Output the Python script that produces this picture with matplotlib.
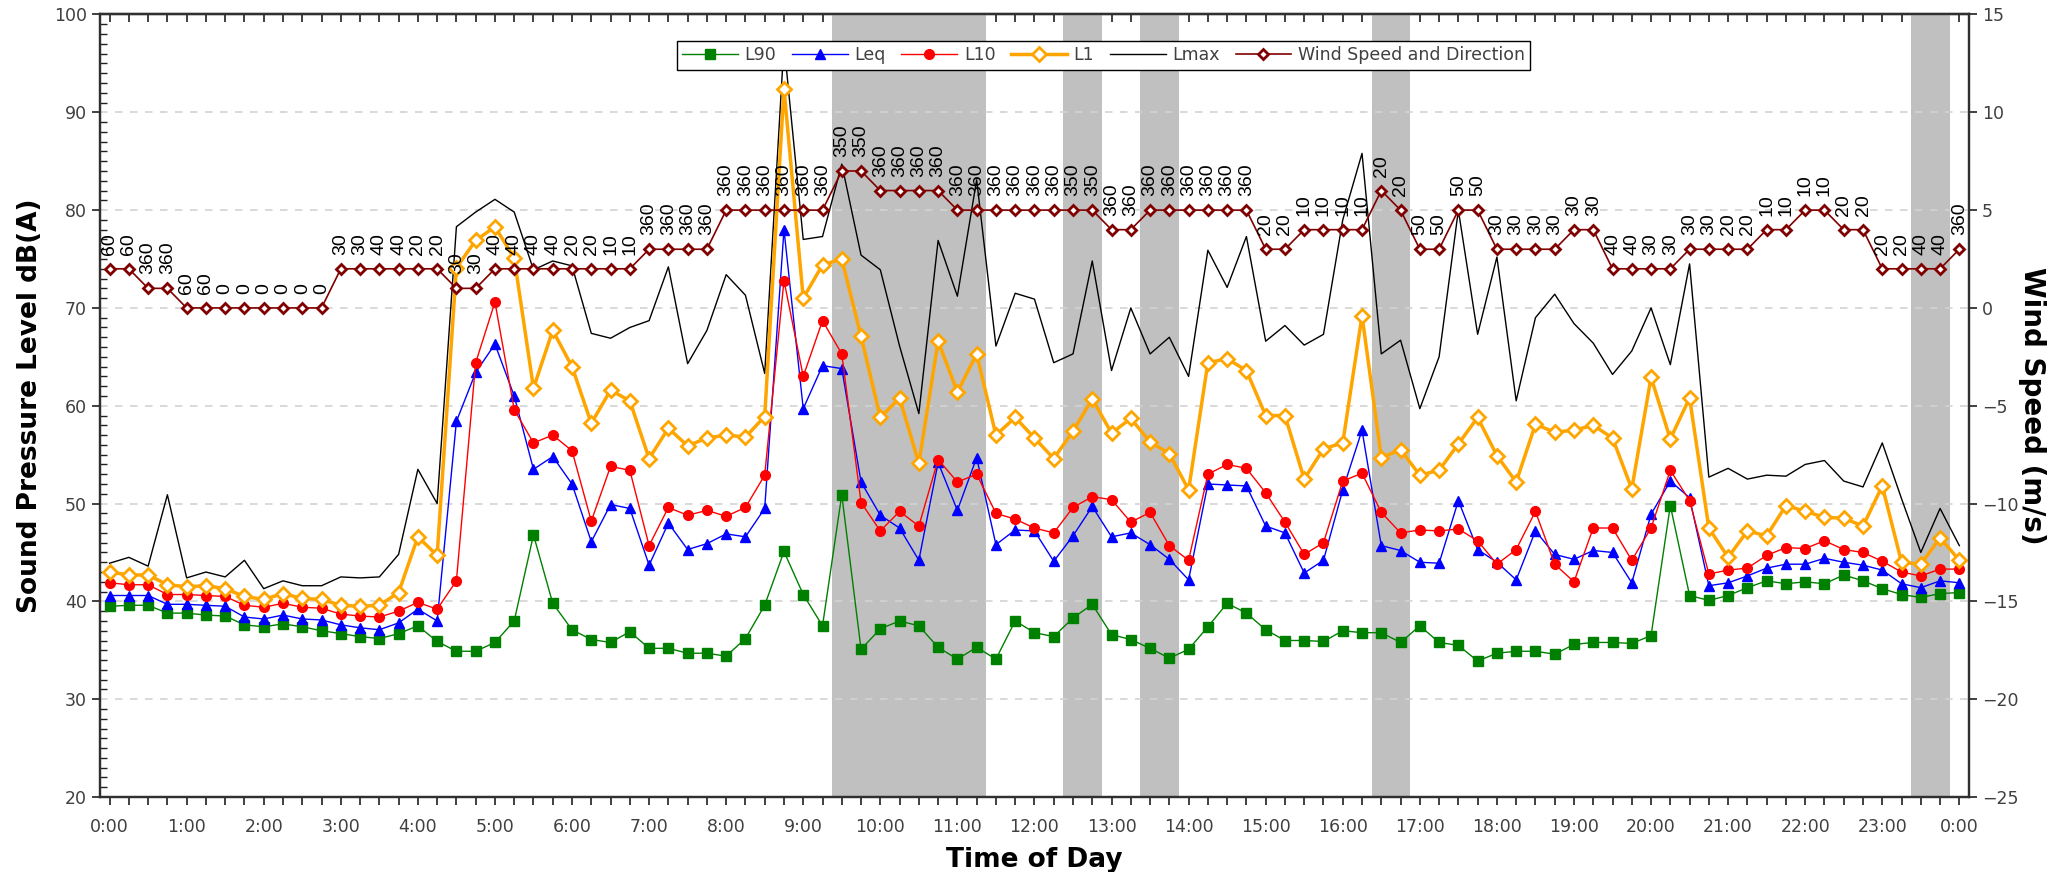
import matplotlib
matplotlib.use("Agg")
import matplotlib.pyplot as plt
from matplotlib.ticker import MultipleLocator, FixedLocator
import numpy as np

# ---------------- data (15-minute intervals, 0:00 .. 24:00) ----------------
L90 = [39.5, 39.6, 39.6, 38.8, 38.8, 38.6, 38.5, 37.6, 37.4, 37.7, 37.4, 37.0,
       36.7, 36.4, 36.2, 36.7, 37.5, 35.9, 34.9, 34.9, 35.8, 38.0, 46.8, 39.8,
       37.1, 36.1, 35.8, 36.9, 35.2, 35.2, 34.7, 34.7, 34.4, 36.2, 39.6, 45.1,
       40.7, 37.5, 50.9, 35.1, 37.2, 38.0, 37.5, 35.3, 34.1, 35.3, 34.1, 38.0,
       36.8, 36.4, 38.3, 39.7, 36.6, 36.1, 35.2, 34.2, 35.1, 37.4, 39.8, 38.8,
       37.1, 36.0, 36.0, 35.9, 37.0, 36.8, 36.8, 35.8, 37.5, 35.8, 35.5, 33.9,
       34.7, 34.9, 34.9, 34.6, 35.6, 35.8, 35.8, 35.7, 36.5, 49.8, 40.6, 40.1,
       40.6, 41.4, 42.1, 41.8, 42.0, 41.8, 42.7, 42.1, 41.3, 40.7, 40.4, 40.8,
       40.9]
Leq = [40.6, 40.6, 40.6, 39.7, 39.7, 39.6, 39.5, 38.4, 38.2, 38.6, 38.2, 38.1,
       37.6, 37.3, 37.1, 37.8, 39.2, 38.0, 58.4, 63.4, 66.3, 61.0, 53.5, 54.8,
       52.0, 46.1, 49.9, 49.5, 43.7, 48.0, 45.3, 45.9, 46.9, 46.6, 49.5, 78.0,
       59.7, 64.1, 63.8, 52.2, 48.8, 47.5, 44.2, 54.2, 49.3, 54.7, 45.8, 47.3,
       47.2, 44.1, 46.7, 49.7, 46.6, 47.0, 45.8, 44.3, 42.2, 52.0, 51.9, 51.8,
       47.7, 47.0, 42.9, 44.2, 51.4, 57.5, 45.7, 45.2, 44.0, 43.9, 50.3, 45.3,
       44.0, 42.2, 47.2, 44.8, 44.3, 45.2, 45.0, 41.9, 48.9, 52.3, 50.6, 41.6,
       41.9, 42.6, 43.4, 43.8, 43.8, 44.4, 44.0, 43.7, 43.2, 41.8, 41.4, 42.1,
       41.9]
L10 = [41.9, 41.7, 41.7, 40.7, 40.7, 40.6, 40.5, 39.6, 39.4, 39.8, 39.4, 39.3,
       38.7, 38.5, 38.4, 39.0, 39.9, 39.2, 42.1, 64.4, 70.6, 59.6, 56.2, 57.0,
       55.4, 48.2, 53.8, 53.4, 45.7, 49.6, 48.8, 49.3, 48.7, 49.6, 52.9, 72.8,
       63.0, 68.7, 65.3, 50.1, 47.2, 49.2, 47.7, 54.5, 52.2, 53.0, 49.0, 48.4,
       47.5, 47.0, 49.6, 50.7, 50.4, 48.1, 49.1, 45.7, 44.2, 53.0, 54.0, 53.6,
       51.1, 48.1, 44.8, 46.0, 52.3, 53.1, 49.1, 47.0, 47.3, 47.2, 47.4, 46.2,
       43.8, 45.3, 49.2, 43.8, 42.0, 47.5, 47.5, 44.2, 47.5, 53.4, 50.3, 42.8,
       43.2, 43.4, 44.7, 45.5, 45.4, 46.2, 45.3, 45.0, 44.1, 43.0, 42.6, 43.3,
       43.3]
L1 = [43.0, 42.7, 42.7, 41.7, 41.5, 41.6, 41.3, 40.5, 40.2, 40.8, 40.3, 40.2,
      39.6, 39.5, 39.6, 40.9, 46.6, 44.7, 74.1, 76.9, 78.3, 75.1, 61.8, 67.7,
      64.0, 58.2, 61.6, 60.5, 54.6, 57.7, 55.9, 56.7, 57.0, 56.8, 58.9, 92.4,
      71.0, 74.4, 75.0, 67.1, 58.8, 60.8, 54.1, 66.6, 61.4, 65.3, 57.0, 58.8,
      56.7, 54.6, 57.4, 60.7, 57.2, 58.7, 56.3, 55.1, 51.4, 64.4, 64.8, 63.6,
      59.0, 59.0, 52.5, 55.6, 56.2, 69.2, 54.7, 55.5, 52.9, 53.4, 56.1, 58.8,
      54.9, 52.2, 58.1, 57.3, 57.5, 58.0, 56.7, 51.5, 62.9, 56.6, 60.8, 47.5,
      44.5, 47.2, 46.7, 49.8, 49.2, 48.6, 48.5, 47.7, 51.8, 44.0, 43.8, 46.5,
      44.2]
Lmax = [43.9, 44.5, 43.6, 50.9, 42.4, 43.0, 42.5, 44.2, 41.3, 42.1, 41.6, 41.6,
        42.5, 42.4, 42.5, 44.8, 53.5, 50.0, 78.3, 79.8, 81.1, 79.8, 73.9, 74.8,
        74.3, 67.4, 66.9, 68.0, 68.7, 74.2, 64.3, 67.7, 73.4, 71.3, 63.3, 97.0,
        77.0, 77.3, 84.7, 75.4, 73.9, 66.1, 59.2, 76.9, 71.2, 83.1, 66.1, 71.5,
        70.9, 64.4, 65.3, 74.8, 63.6, 70.0, 65.3, 67.0, 63.0, 75.9, 72.1, 77.3,
        66.6, 68.2, 66.2, 67.3, 79.0, 85.8, 65.3, 66.7, 59.7, 65.0, 80.0, 67.3,
        75.2, 60.5, 69.0, 71.4, 68.4, 66.4, 63.2, 65.6, 70.0, 64.2, 74.5, 52.7,
        53.6, 52.5, 52.9, 52.8, 54.0, 54.4, 52.3, 51.7, 56.2, 50.5, 45.0, 49.5,
        45.7]
wind_speed = [2, 2, 1, 1, 0, 0, 0, 0, 0, 0, 0, 0,
              2, 2, 2, 2, 2, 2, 1, 1, 2, 2, 2, 2,
              2, 2, 2, 2, 3, 3, 3, 3, 5, 5, 5, 5,
              5, 5, 7, 7, 6, 6, 6, 6, 5, 5, 5, 5,
              5, 5, 5, 5, 4, 4, 5, 5, 5, 5, 5, 5,
              3, 3, 4, 4, 4, 4, 6, 5, 3, 3, 5, 5,
              3, 3, 3, 3, 4, 4, 2, 2, 2, 2, 3, 3,
              3, 3, 4, 4, 5, 5, 4, 4, 2, 2, 2, 2,
              3]
wind_dir = [60, 60, 360, 360, 60, 60, 0, 0, 0, 0, 0, 0,
            30, 30, 40, 40, 20, 20, 30, 30, 40, 40, 40, 40,
            20, 20, 10, 10, 360, 360, 360, 360, 360, 360, 360, 360,
            360, 360, 350, 350, 360, 360, 360, 360, 360, 360, 360, 360,
            360, 360, 350, 350, 360, 360, 360, 360, 360, 360, 360, 360,
            20, 20, 10, 10, 10, 10, 20, 20, 50, 50, 50, 50,
            30, 30, 30, 30, 30, 30, 40, 40, 30, 30, 30, 30,
            20, 20, 10, 10, 10, 10, 20, 20, 20, 20, 40, 40,
            360]
hour_labels = ["0:00", "1:00", "2:00", "3:00", "4:00", "5:00", "6:00", "7:00",
               "8:00", "9:00", "10:00", "11:00", "12:00", "13:00", "14:00",
               "15:00", "16:00", "17:00", "18:00", "19:00", "20:00", "21:00",
               "22:00", "23:00", "0:00"]
shade_start = [9.375, 12.375, 13.375, 16.375, 23.375]   # hours
shade_end = [11.375, 12.875, 13.875, 16.875, 23.875]

# sample times (hours) of the 15-minute intervals
t = np.arange(len(L90)) * 0.25

# ---------------- figure ----------------
plt.rcParams['font.family'] = ['DejaVu Sans']
fig = plt.figure(figsize=(20.65, 8.72), dpi=100)
ax = fig.add_axes([0.0484, 0.086, 0.9051, 0.8974])
ax2 = ax.twinx()

for s0, s1 in zip(shade_start, shade_end):
    ax.axvspan(s0, s1, color='#C0C0C0', lw=0, zorder=0.5)

ax.yaxis.grid(True, linestyle=(0, (4.5, 4.5)), color='#D3D3D3', lw=1.2, zorder=0.6)
ax.set_axisbelow(True)

lmax_line, = ax.plot(t, Lmax, color='black', lw=1.0, zorder=1.5)
l90_line, = ax.plot(t, L90, color='#008000', lw=1.0, marker='s', ms=6.7,
                    mfc='#008000', mec='#008000', zorder=2)
leq_line, = ax.plot(t, Leq, color='#0000FF', lw=1.0, marker='^', ms=7.5,
                    mfc='#0000FF', mec='#0000FF', zorder=2.1)
l10_line, = ax.plot(t, L10, color='#FF0000', lw=1.0, marker='o', ms=7,
                    mfc='#FF0000', mec='#FF0000', zorder=2.2)
l1_line, = ax.plot(t, L1, color='#FFA500', lw=2.5, marker='D', ms=7.2,
                   mfc='white', mec='#FFA500', mew=2, zorder=2.3)

wind_line, = ax2.plot(t, wind_speed, color='#800000', lw=1.2, marker='D', ms=5.2,
                      mfc='white', mec='#800000', mew=2, zorder=3)
for x, w, d in zip(t, wind_speed, wind_dir):
    ax2.annotate(str(d), (x, w), xytext=(0, 10), textcoords='offset points',
                 rotation=90, ha='center', va='bottom', fontsize=14,
                 family='Liberation Sans', color='black', zorder=3)

# ---------------- axes ----------------
ax.set_xlim(-0.125, 24.125)
ax.set_ylim(20, 100)
ax2.set_ylim(-25, 15)

ax.xaxis.set_major_locator(FixedLocator(np.arange(0, 25, 1)))
ax.set_xticklabels(hour_labels)
ax.xaxis.set_minor_locator(MultipleLocator(0.25))
ax.yaxis.set_major_locator(MultipleLocator(10))
ax.yaxis.set_minor_locator(MultipleLocator(1))
ax2.yaxis.set_major_locator(MultipleLocator(5))

tick_col = '#404040'
ax.tick_params(axis='x', which='both', direction='out', length=6, width=1.2,
               color='#202020', top=False, labelsize=12.5, labelcolor=tick_col, pad=9)
ax.tick_params(axis='y', which='major', direction='out', length=6, width=1.2,
               color='#202020', labelsize=12.5, labelcolor=tick_col)
ax.tick_params(axis='y', which='minor', direction='in', length=5, width=1.0,
               color='#202020')
ax2.tick_params(axis='y', which='major', direction='out', length=6, width=1.2,
                color='#202020', labelsize=12.5, labelcolor=tick_col)
ax2.tick_params(axis='y', which='minor', right=False)

# inward ticks along the top edge
top = ax.secondary_xaxis('top')
top.xaxis.set_major_locator(MultipleLocator(0.25))
top.tick_params(axis='x', which='both', direction='in', length=6, width=1.2,
                color='#202020', labeltop=False)
top.spines['top'].set_linewidth(1.6)
top.spines['top'].set_color('#303030')

for a in (ax, ax2):
    for sp in a.spines.values():
        sp.set_linewidth(1.6)
        sp.set_color('#303030')

ax.set_xlabel('Time of Day', fontsize=19, fontweight='bold', labelpad=8)
ax.set_ylabel('Sound Pressure Level dB(A)', fontsize=19, fontweight='bold', labelpad=8)
ax2.set_ylabel('Wind Speed (m/s)', fontsize=20, fontweight='bold', rotation=270,
               labelpad=20)

leg = ax2.legend([l90_line, leq_line, l10_line, l1_line, lmax_line, wind_line],
                 ['L90', 'Leq', 'L10', 'L1', 'Lmax', 'Wind Speed and Direction'],
                 loc='upper center', bbox_to_anchor=(0.537, 0.977), ncol=6,
                 fontsize=12.5, frameon=True, fancybox=False, framealpha=1,
                 edgecolor='black', handlelength=3.2, handletextpad=0.4,
                 columnspacing=0.9, borderpad=0.3, labelcolor=tick_col)
leg.get_frame().set_linewidth(1.0)
leg.set_zorder(10)

fig.savefig('out.png', dpi=100)
